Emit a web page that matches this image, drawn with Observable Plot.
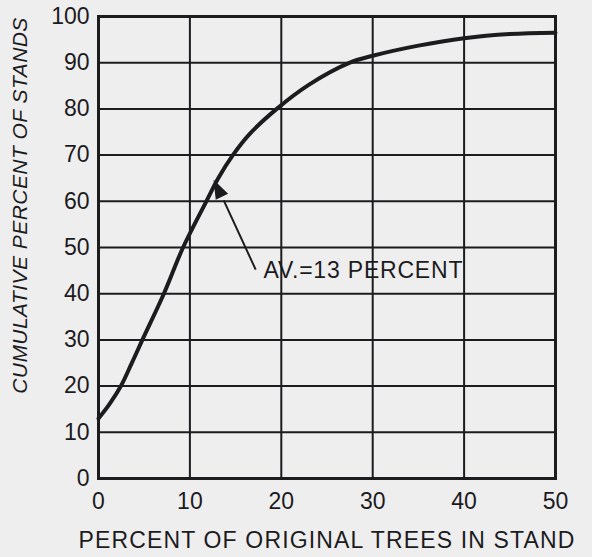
<!DOCTYPE html>
<html>
<head>
<meta charset="utf-8">
<script src="https://cdn.jsdelivr.net/npm/d3@7"></script>
<script src="https://cdn.jsdelivr.net/npm/@observablehq/plot@0.6"></script>
<style>
  html, body { margin: 0; padding: 0; background: #efeeef; }
  #chart svg { display: block; background: #efeeef; }
</style>
</head>
<body>
<div id="chart"></div>
<script>
// Curve: percent of original trees in stand (x) vs cumulative percent of stands (y)
const pctTrees = [0, 1.2, 2.5, 3.6, 4.8, 7.15, 9.25, 11.8, 13.1, 14.7, 16.5, 19.5, 23, 27.5, 30, 35, 40, 45, 50];
const cumPct   = [13, 16.1, 20.2, 24.8, 30, 40, 50, 60, 65, 70, 74.5, 80, 85.2, 90, 91.5, 93.7, 95.3, 96.2, 96.5];

const xTicks = [0, 10, 20, 30, 40, 50];
const yTicks = [0, 10, 20, 30, 40, 50, 60, 70, 80, 90, 100];

const xLabel = "PERCENT OF ORIGINAL TREES IN STAND";
const yLabel = "CUMULATIVE PERCENT OF STANDS";

// Annotation: label, pointer line and arrowhead (data coordinates)
const noteText = "AV.=13 PERCENT";
const noteAt = {x: 18.05, y: 45.1};
const pointer = {x1: 17.2, y1: 45.2, x2: 13.7, y2: 60.2};
const head = {x: 13.2, y: 62.2, angle: -26};

const curveData = pctTrees.map((x, i) => ({x, y: cumPct[i]}));

const narrowTriangle = {
  draw(context, size) {
    const r = Math.sqrt(size / Math.PI);
    const h = 2 * r, w = 1.45 * r;
    context.moveTo(0, -2 * h / 3);
    context.lineTo(w / 2, h / 3);
    context.lineTo(-w / 2, h / 3);
    context.closePath();
  }
};

const ink = "#1c1b1d";
const font = "'Liberation Sans', Arial, Helvetica, sans-serif";

const chart = Plot.plot({
  width: 592,
  height: 557,
  marginLeft: 98,
  marginRight: 37,
  marginTop: 16,
  marginBottom: 79,
  style: {fontFamily: font, fontSize: "23px", color: ink, background: "#efeeef"},
  x: {domain: [0, 50]},
  y: {domain: [0, 100]},
  marks: [
    Plot.ruleX(xTicks.slice(1, -1), {stroke: ink, strokeWidth: 2}),
    Plot.ruleY(yTicks.slice(1, -1), {stroke: ink, strokeWidth: 2}),
    Plot.frame({stroke: ink, strokeWidth: 3}),
    Plot.axisX({ticks: xTicks, tickSize: 0, tickPadding: 14, label: null, fontSize: 23, fill: ink}),
    Plot.axisY({ticks: yTicks, tickSize: 0, tickPadding: 9, label: null, fontSize: 23, fill: ink}),
    Plot.line(curveData, {x: "x", y: "y", curve: "catmull-rom", stroke: ink, strokeWidth: 4}),
    Plot.link([pointer], {x1: "x1", y1: "y1", x2: "x2", y2: "y2", stroke: ink, strokeWidth: 2}),
    Plot.dot([head], {x: "x", y: "y", r: 9.5, symbol: narrowTriangle, fill: ink, stroke: null, rotate: "angle"}),
    Plot.text([noteText], {x: noteAt.x, y: noteAt.y, text: d => d, textAnchor: "start", fontSize: 23, fill: ink}),
    Plot.text([xLabel], {frameAnchor: "bottom", dx: 0, dy: 62, text: d => d, fontSize: 23, fill: ink, textAnchor: "middle", lineAnchor: "middle"}),
    Plot.text([yLabel], {frameAnchor: "left", dx: -78, dy: -42, rotate: -90, text: d => d, fontSize: 21, fontStyle: "italic", fill: ink, textAnchor: "middle", lineAnchor: "middle"})
  ]
});
// letter spacing to match the wide lettering of the original
const spacing = new Map([[noteText, "0.8px"], [xLabel, "1.15px"], [yLabel, "0.45px"]]);
d3.select(chart).selectAll("text").each(function () {
  const s = spacing.get(this.textContent);
  if (s) this.setAttribute("letter-spacing", s);
});
document.getElementById("chart").appendChild(chart);
</script>
</body>
</html>
